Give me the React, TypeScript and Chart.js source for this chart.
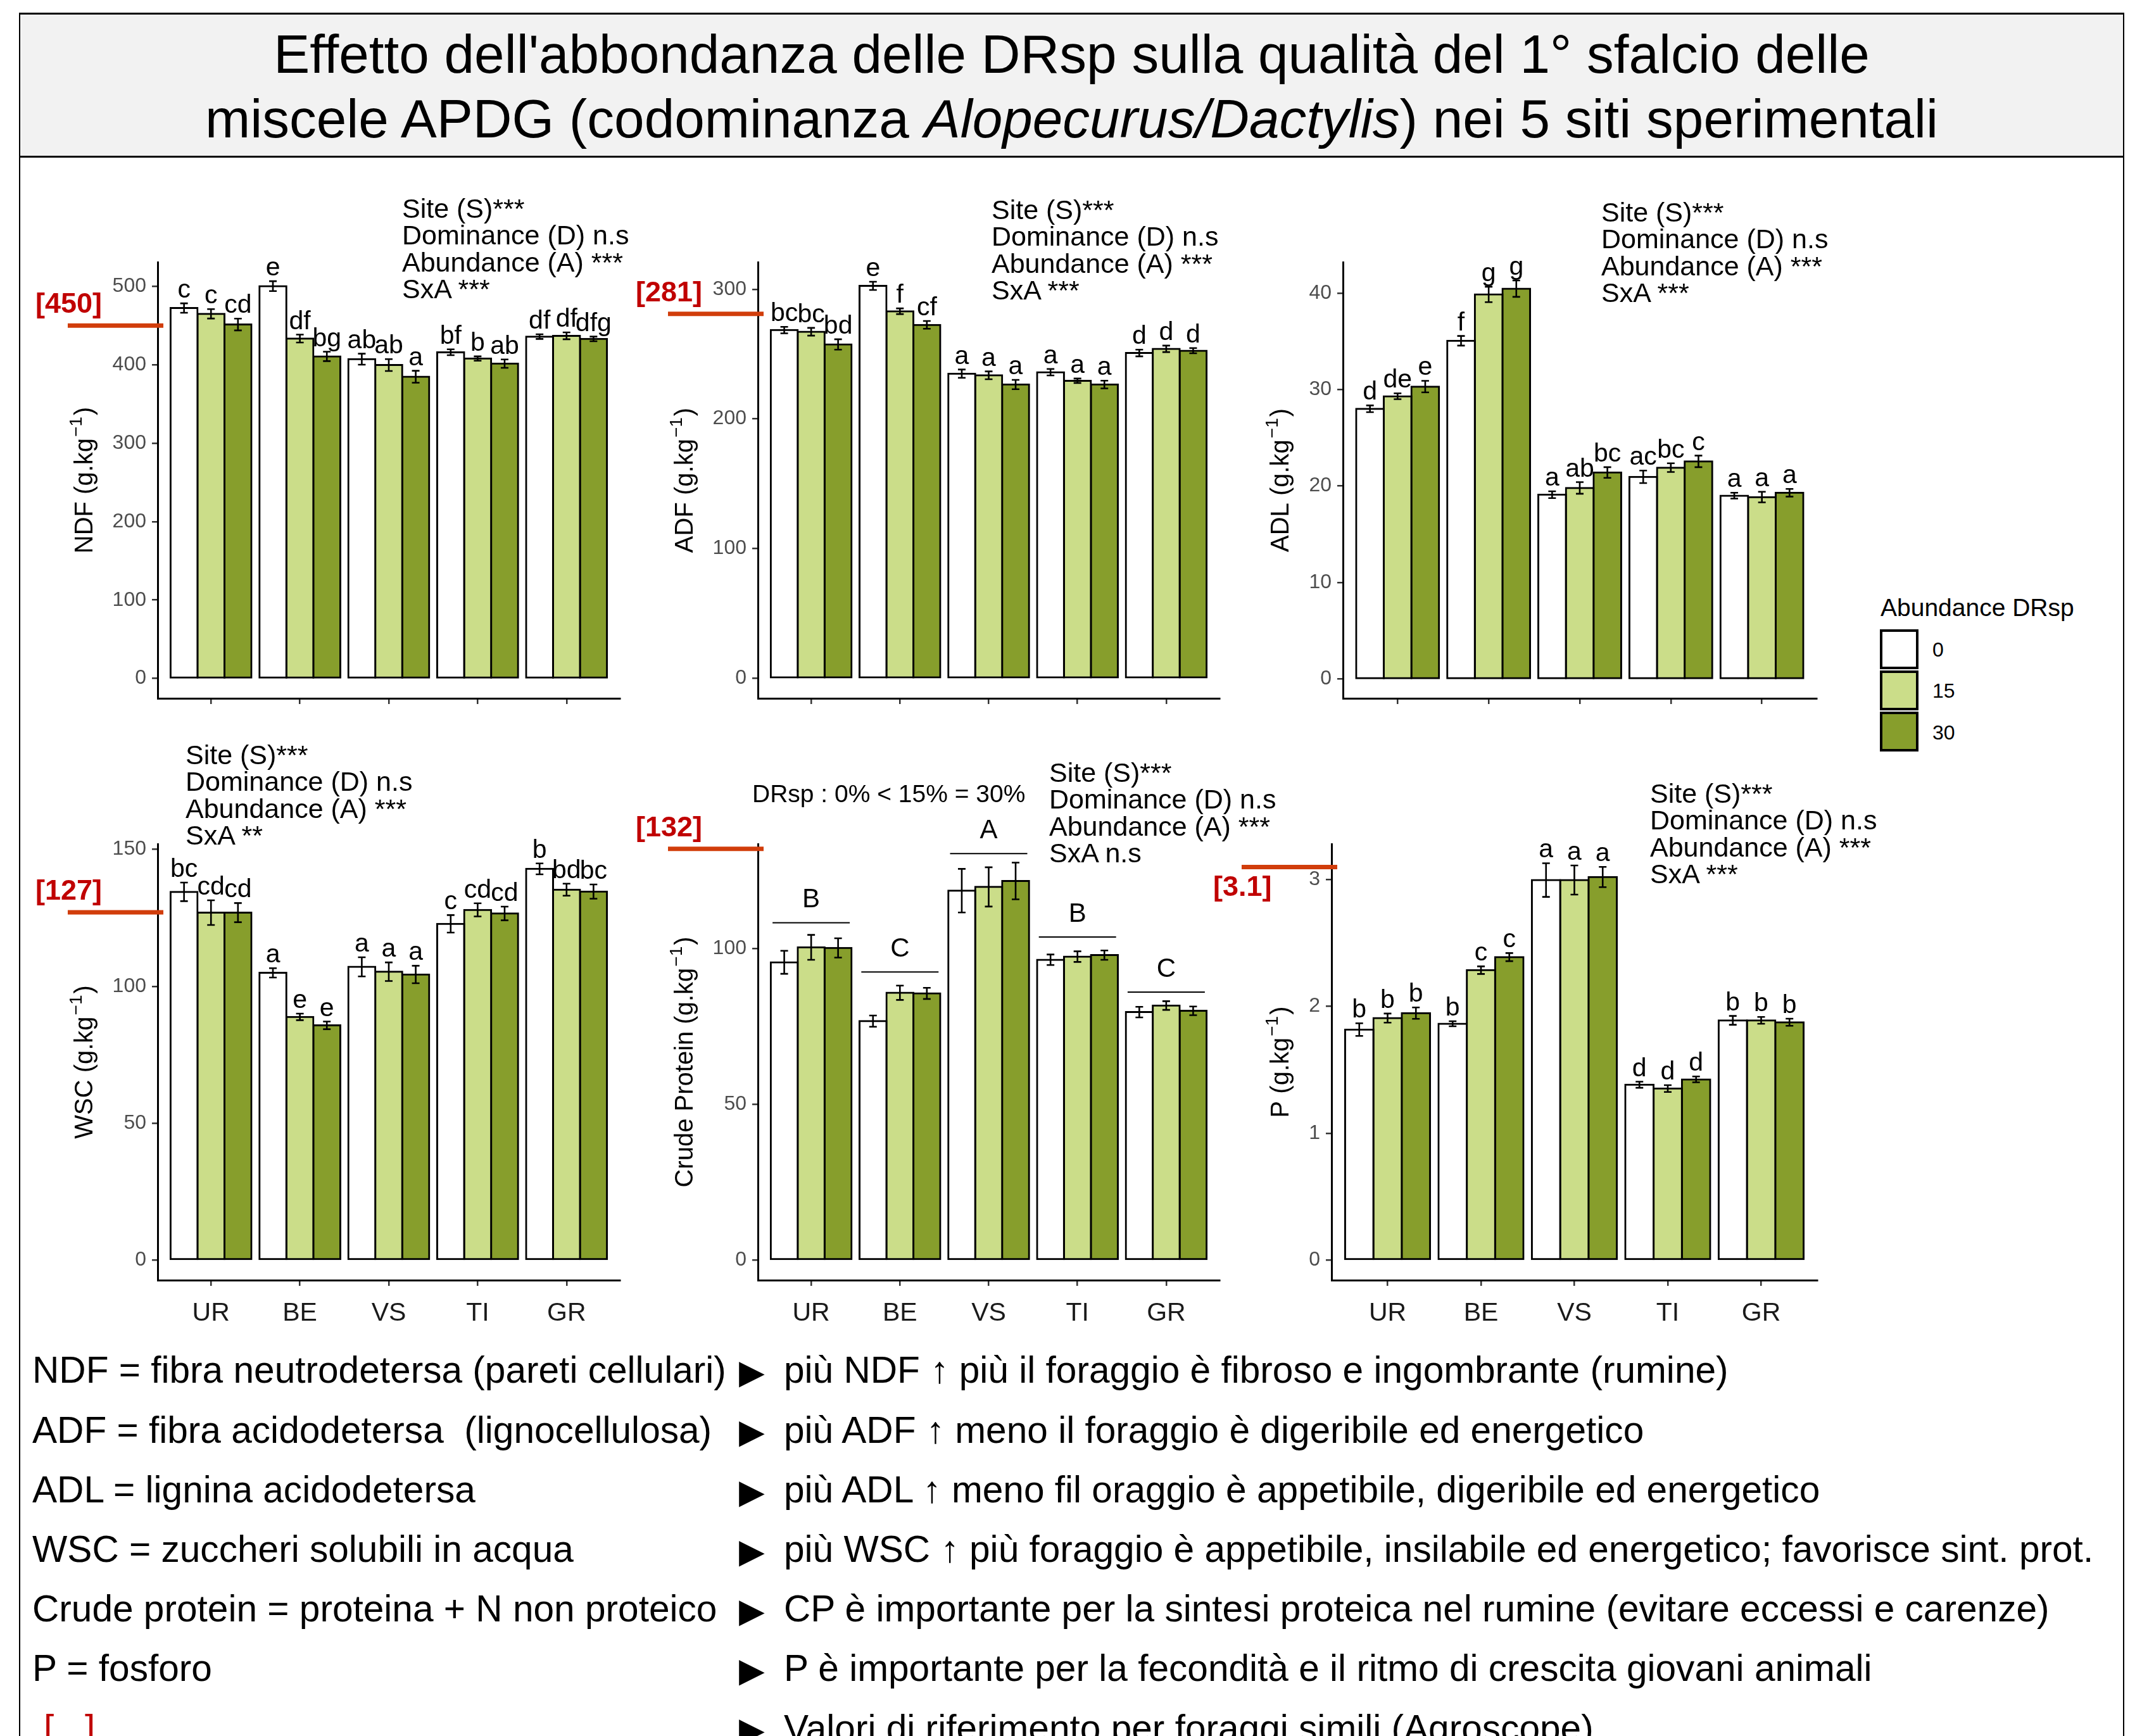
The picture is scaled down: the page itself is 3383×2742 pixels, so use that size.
import React, { useEffect, useRef } from 'react';
import { Chart, registerables } from 'chart.js';

Chart.register(...registerables);

const FONT = '"Liberation Sans", Arial, Helvetica, sans-serif';

// ---------------- DATA ----------------
const SITES = ['UR', 'BE', 'VS', 'TI', 'GR'];
const ABUNDANCE_LEVELS = ['0', '15', '30'];
const BAR_COLORS = ['#ffffff', '#cbdd89', '#879e2c'];

// NDF (g/kg)
const NDF_0 = [472.4, 500.4, 407.2, 416.0, 436.0];
const NDF_15 = [465.0, 433.5, 399.7, 408.0, 437.0];
const NDF_30 = [451.4, 410.7, 384.8, 401.5, 433.0];
const NDF_SE_0 = [6.0, 6.3, 7.0, 3.7, 3.0];
const NDF_SE_15 = [6.0, 5.0, 7.6, 2.8, 4.4];
const NDF_SE_30 = [7.5, 6.0, 7.6, 5.3, 3.0];
const NDF_LET_0 = ['c', 'e', 'ab', 'bf', 'df'];
const NDF_LET_15 = ['c', 'df', 'ab', 'b', 'df'];
const NDF_LET_30 = ['cd', 'bg', 'a', 'ab', 'dfg'];
const NDF_TICKS = [0, 100, 200, 300, 400, 500];
const NDF_STATS = ['Site (S)***', 'Dominance (D) n.s', 'Abundance (A) ***', 'SxA ***'];
const NDF_REF = 450;

// ADF
const ADF_0 = [268.5, 302.6, 234.9, 236.0, 250.8];
const ADF_15 = [267.2, 283.0, 233.6, 229.4, 254.0];
const ADF_30 = [257.4, 272.5, 226.5, 226.5, 252.6];
const ADF_SE_0 = [2.5, 3.2, 3.2, 2.5, 2.6];
const ADF_SE_15 = [3.0, 2.2, 3.0, 1.7, 2.5];
const ADF_SE_30 = [4.0, 3.0, 3.6, 3.0, 2.0];
const ADF_LET_0 = ['bc', 'e', 'a', 'a', 'd'];
const ADF_LET_15 = ['bc', 'f', 'a', 'a', 'd'];
const ADF_LET_30 = ['bd', 'cf', 'a', 'a', 'd'];
const ADF_TICKS = [0, 100, 200, 300];
const ADF_STATS = ['Site (S)***', 'Dominance (D) n.s', 'Abundance (A) ***', 'SxA ***'];
const ADF_REF = 281;

// ADL
const ADL_0 = [28.0, 35.05, 19.1, 20.95, 19.0];
const ADL_15 = [29.3, 39.85, 19.8, 21.9, 18.85];
const ADL_30 = [30.3, 40.45, 21.4, 22.55, 19.3];
const ADL_SE_0 = [0.35, 0.5, 0.35, 0.65, 0.3];
const ADL_SE_15 = [0.3, 0.8, 0.6, 0.45, 0.55];
const ADL_SE_30 = [0.6, 0.85, 0.55, 0.6, 0.4];
const ADL_LET_0 = ['d', 'f', 'a', 'ac', 'a'];
const ADL_LET_15 = ['de', 'g', 'ab', 'bc', 'a'];
const ADL_LET_30 = ['e', 'g', 'bc', 'c', 'a'];
const ADL_TICKS = [0, 10, 20, 30, 40];
const ADL_STATS = ['Site (S)***', 'Dominance (D) n.s', 'Abundance (A) ***', 'SxA ***'];

// WSC
const WSC_0 = [134.5, 104.9, 107.1, 122.8, 142.9];
const WSC_15 = [126.9, 88.8, 105.3, 127.9, 135.3];
const WSC_30 = [126.9, 85.7, 104.3, 126.6, 134.6];
const WSC_SE_0 = [3.4, 1.7, 3.5, 3.2, 2.0];
const WSC_SE_15 = [4.5, 1.2, 3.4, 2.4, 2.2];
const WSC_SE_30 = [3.5, 1.4, 3.2, 2.5, 2.6];
const WSC_LET_0 = ['bc', 'a', 'a', 'c', 'b'];
const WSC_LET_15 = ['cd', 'e', 'a', 'cd', 'bd'];
const WSC_LET_30 = ['cd', 'e', 'a', 'cd', 'bc'];
const WSC_TICKS = [0, 50, 100, 150];
const WSC_STATS = ['Site (S)***', 'Dominance (D) n.s', 'Abundance (A) ***', 'SxA **'];
const WSC_REF = 127;

// Crude protein
const CP_0 = [95.6, 76.7, 118.6, 96.4, 79.6];
const CP_15 = [100.4, 85.8, 119.8, 97.4, 81.7];
const CP_30 = [100.2, 85.6, 121.7, 97.9, 80.0];
const CP_SE_0 = [3.7, 1.8, 7.0, 1.7, 1.7];
const CP_SE_15 = [4.0, 2.3, 6.3, 1.7, 1.4];
const CP_SE_30 = [3.1, 1.8, 5.9, 1.5, 1.4];
const CP_GROUP_LETTERS = ['B', 'C', 'A', 'B', 'C'];
const CP_GROUP_LINE = [108.3, 92.5, 130.5, 103.7, 86.0];
const CP_TICKS = [0, 50, 100];
const CP_STATS = ['Site (S)***', 'Dominance (D) n.s', 'Abundance (A) ***', 'SxA n.s'];
const CP_NOTE = 'DRsp : 0% < 15% = 30%';
const CP_REF = 132;

// P
const P_0 = [1.817, 1.863, 2.997, 1.382, 1.89];
const P_15 = [1.908, 2.286, 2.997, 1.352, 1.89];
const P_30 = [1.947, 2.389, 3.021, 1.424, 1.875];
const P_SE_0 = [0.05, 0.02, 0.133, 0.024, 0.035];
const P_SE_15 = [0.036, 0.03, 0.115, 0.027, 0.027];
const P_SE_30 = [0.045, 0.032, 0.08, 0.023, 0.028];
const P_LET_0 = ['b', 'b', 'a', 'd', 'b'];
const P_LET_15 = ['b', 'c', 'a', 'd', 'b'];
const P_LET_30 = ['b', 'c', 'a', 'd', 'b'];
const P_TICKS = [0, 1, 2, 3];
const P_STATS = ['Site (S)***', 'Dominance (D) n.s', 'Abundance (A) ***', 'SxA ***'];
const P_REF = 3.1;

const TITLE_1 = "Effetto dell'abbondanza delle DRsp sulla qualità del 1° sfalcio delle";
const LEGEND_TITLE = 'Abundance DRsp';

const NOTES_LEFT = [
  'NDF = fibra neutrodetersa (pareti cellulari)',
  'ADF = fibra acidodetersa  (lignocellulosa)',
  'ADL = lignina acidodetersa',
  'WSC = zuccheri solubili in acqua',
  'Crude protein = proteina + N non proteico',
  'P = fosforo',
  '[...]',
];
const NOTES_RIGHT = [
  'più NDF ↑ più il foraggio è fibroso e ingombrante (rumine)',
  'più ADF ↑ meno il foraggio è digeribile ed energetico',
  'più ADL ↑ meno fil oraggio è appetibile, digeribile ed energetico',
  'più WSC ↑ più foraggio è appetibile, insilabile ed energetico; favorisce sint. prot.',
  'CP è importante per la sintesi proteica nel rumine (evitare eccessi e carenze)',
  'P è importante per la fecondità e il ritmo di crescita giovani animali',
  'Valori di riferimento per foraggi simili (Agroscope)',
];

// ---------------- PANEL CONFIGS ----------------
type Panel = {
  id: string;
  yName: string;
  means: number[][];
  ses: number[][];
  letters: string[][] | null;
  ticks: number[];
  yMin: number;
  yMax: number;
  ax: number; ar: number; at: number; ab: number;
  showX: boolean;
  ref: number | null;
  refBelow?: boolean;
  stats: string[];
  statsX: number; statsY: number;
  groupLetters?: string[];
  groupLine?: number[];
};

const PANELS: Panel[] = [
  {
    id: 'ndf', yName: 'NDF', means: [NDF_0, NDF_15, NDF_30], ses: [NDF_SE_0, NDF_SE_15, NDF_SE_30],
    letters: [NDF_LET_0, NDF_LET_15, NDF_LET_30], ticks: NDF_TICKS, yMin: -25.4, yMax: 531,
    ax: 249, ar: 979, at: 414, ab: 1103, showX: false, ref: NDF_REF, stats: NDF_STATS, statsX: 635, statsY: 344,
  },
  {
    id: 'adf', yName: 'ADF', means: [ADF_0, ADF_15, ADF_30], ses: [ADF_SE_0, ADF_SE_15, ADF_SE_30],
    letters: [ADF_LET_0, ADF_LET_15, ADF_LET_30], ticks: ADF_TICKS, yMin: -15.5, yMax: 320.9,
    ax: 1197, ar: 1926, at: 414, ab: 1103, showX: false, ref: ADF_REF, stats: ADF_STATS, statsX: 1566, statsY: 346,
  },
  {
    id: 'adl', yName: 'ADL', means: [ADL_0, ADL_15, ADL_30], ses: [ADL_SE_0, ADL_SE_15, ADL_SE_30],
    letters: [ADL_LET_0, ADL_LET_15, ADL_LET_30], ticks: ADL_TICKS, yMin: -2.0, yMax: 43.2,
    ax: 2121, ar: 2869, at: 414, ab: 1103, showX: false, ref: null, stats: ADL_STATS, statsX: 2529, statsY: 350,
  },
  {
    id: 'wsc', yName: 'WSC', means: [WSC_0, WSC_15, WSC_30], ses: [WSC_SE_0, WSC_SE_15, WSC_SE_30],
    letters: [WSC_LET_0, WSC_LET_15, WSC_LET_30], ticks: WSC_TICKS, yMin: -7.4, yMax: 152.0,
    ax: 249, ar: 979, at: 1333, ab: 2022, showX: true, ref: WSC_REF, stats: WSC_STATS, statsX: 293, statsY: 1207,
  },
  {
    id: 'cp', yName: 'Crude Protein', means: [CP_0, CP_15, CP_30], ses: [CP_SE_0, CP_SE_15, CP_SE_30],
    letters: null, ticks: CP_TICKS, yMin: -6.5, yMax: 133.6,
    ax: 1197, ar: 1926, at: 1333, ab: 2022, showX: true, ref: CP_REF, stats: CP_STATS, statsX: 1657, statsY: 1235,
    groupLetters: CP_GROUP_LETTERS, groupLine: CP_GROUP_LINE,
  },
  {
    id: 'p', yName: 'P', means: [P_0, P_15, P_30], ses: [P_SE_0, P_SE_15, P_SE_30],
    letters: [P_LET_0, P_LET_15, P_LET_30], ticks: P_TICKS, yMin: -0.16, yMax: 3.282,
    ax: 2103, ar: 2870, at: 1333, ab: 2022, showX: true, ref: P_REF, refBelow: true, stats: P_STATS, statsX: 2606, statsY: 1268,
  },
];

const YW = 240; // reserved width left of axis
const PT = 150; // top padding in canvas
const PR = 30;
const XH = 84;

function geom(p: Panel) {
  const left = p.ax - YW;
  const top = p.at - PT;
  const w = YW + (p.ar - p.ax) + PR;
  const h = PT + (p.ab - p.at) + XH;
  return { left, top, w, h };
}

function makePlugin(p: Panel) {
  return {
    id: 'overlay_' + p.id,
    afterDatasetsDraw(chart: any) {
      const ctx = chart.ctx as CanvasRenderingContext2D;
      const ys = chart.scales.y;
      const xs = chart.scales.x;
      ctx.save();
      p.means.forEach((arr, di) => {
        const meta = chart.getDatasetMeta(di);
        arr.forEach((m, j) => {
          const bar = meta.data[j];
          const x = bar.x;
          const se = p.ses[di][j];
          const yt = ys.getPixelForValue(m + se);
          const yb = ys.getPixelForValue(m - se);
          ctx.strokeStyle = '#000';
          ctx.lineWidth = 2.6;
          ctx.beginPath();
          ctx.moveTo(x, yt); ctx.lineTo(x, yb);
          ctx.moveTo(x - 6, yt); ctx.lineTo(x + 6, yt);
          ctx.moveTo(x - 6, yb); ctx.lineTo(x + 6, yb);
          ctx.stroke();
          if (p.letters) {
            ctx.fillStyle = '#000';
            ctx.font = `41px ${FONT}`;
            ctx.textAlign = 'center';
            ctx.textBaseline = 'alphabetic';
            ctx.fillText(p.letters[di][j], x, yt - 9);
          }
        });
      });
      if (p.groupLetters && p.groupLine) {
        p.groupLetters.forEach((g, j) => {
          const cx = xs.getPixelForValue(j + 1);
          const ly = ys.getPixelForValue(p.groupLine![j]);
          ctx.strokeStyle = '#000';
          ctx.lineWidth = 2;
          ctx.beginPath();
          ctx.moveTo(cx - 61, ly); ctx.lineTo(cx + 61, ly);
          ctx.stroke();
          ctx.fillStyle = '#000';
          ctx.font = `42px ${FONT}`;
          ctx.textAlign = 'center';
          ctx.textBaseline = 'alphabetic';
          ctx.fillText(g, cx, ly - 24);
        });
      }
      ctx.restore();
    },
    afterDraw(chart: any) {
      const ctx = chart.ctx as CanvasRenderingContext2D;
      const ca = chart.chartArea;
      const ys = chart.scales.y;
      ctx.save();
      // y axis title with superscript
      ctx.font = `32px ${FONT}`;
      const maxW = Math.max(...p.ticks.map((v) => ctx.measureText(String(v)).width));
      const cx = ca.left - 18 - maxW - 46;
      const cy = (ca.top + ca.bottom) / 2;
      const main = `${p.yName} (g.kg`;
      const sup = '\u22121';
      ctx.font = `40px ${FONT}`;
      const w1 = ctx.measureText(main).width;
      const w3 = ctx.measureText(')').width;
      ctx.font = `28px ${FONT}`;
      const w2 = ctx.measureText(sup).width;
      const total = w1 + w2 + w3 + 4;
      ctx.translate(cx, cy);
      ctx.rotate(-Math.PI / 2);
      ctx.fillStyle = '#000';
      ctx.textAlign = 'left';
      ctx.textBaseline = 'alphabetic';
      let x0 = -total / 2;
      const base = 14;
      ctx.font = `40px ${FONT}`;
      ctx.fillText(main, x0, base);
      x0 += w1 + 2;
      ctx.font = `28px ${FONT}`;
      ctx.fillText(sup, x0, base - 17);
      x0 += w2 + 2;
      ctx.font = `40px ${FONT}`;
      ctx.fillText(')', x0, base);
      ctx.setTransform(1, 0, 0, 1, 0, 0);

      // reference line
      if (p.ref !== null) {
        const ry = ys.getPixelForValue(p.ref);
        const lx0 = ca.left - 142;
        const lx1 = ca.left + 9;
        ctx.strokeStyle = '#d13d0b';
        ctx.lineWidth = 7;
        ctx.beginPath();
        ctx.moveTo(lx0, ry); ctx.lineTo(lx1, ry);
        ctx.stroke();
        ctx.fillStyle = '#c00000';
        ctx.font = `bold 45px ${FONT}`;
        ctx.textAlign = 'left';
        ctx.textBaseline = 'alphabetic';
        const label = `[${p.ref}]`;
        if (p.refBelow) ctx.fillText(label, lx0 - 45, ry + 46);
        else ctx.fillText(label, lx0 - 51, ry - 20);
      }
      ctx.restore();
    },
  };
}

function PanelChart({ p }: { p: Panel }) {
  const ref = useRef<HTMLCanvasElement>(null);
  const g = geom(p);
  useEffect(() => {
    const gridOpts = { display: true, offset: false, drawOnChartArea: false, drawTicks: true, tickLength: 9, lineWidth: 2.5, color: '#333333' };
    const borderOpts = { display: true, color: '#000000', width: 3 };
    const chart = new Chart(ref.current as HTMLCanvasElement, {
      type: 'bar',
      data: {
        datasets: p.means.map((arr, di) => ({
          label: ABUNDANCE_LEVELS[di],
          data: arr.map((v, j) => ({ x: j + 1, y: v })),
          backgroundColor: BAR_COLORS[di],
          borderColor: '#000000',
          borderWidth: 3,
          borderSkipped: false,
          inflateAmount: 1.5,
          categoryPercentage: 0.91,
          barPercentage: 1,
        })),
      } as any,
      options: {
        responsive: false,
        animation: false,
        devicePixelRatio: 1,
        layout: { padding: { left: 0, top: PT, right: PR, bottom: 0 } },
        plugins: { legend: { display: false }, tooltip: { enabled: false }, title: { display: false } },
        scales: {
          x: {
            type: 'linear',
            offset: false,
            min: 0.4,
            max: 5.6,
            afterBuildTicks: (s: any) => { s.ticks = SITES.map((_, i) => ({ value: i + 1 })); },
            afterFit: (s: any) => { s.height = XH; },
            ticks: {
              callback: (v: any) => SITES[Math.round(Number(v)) - 1] ?? '',
              color: p.showX ? '#1a1a1a' : 'rgba(0,0,0,0)',
              font: { family: FONT, size: 41 },
              padding: 19,
              maxRotation: 0,
              autoSkip: false,
            },
            grid: gridOpts,
            border: borderOpts,
          },
          y: {
            type: 'linear',
            min: p.yMin,
            max: p.yMax,
            afterBuildTicks: (s: any) => { s.ticks = p.ticks.map((v) => ({ value: v })); },
            afterFit: (s: any) => { s.width = YW; },
            ticks: {
              callback: (v: any) => String(v),
              color: '#4d4d4d',
              font: { family: FONT, size: 32 },
              padding: 9,
            },
            grid: gridOpts,
            border: borderOpts,
          },
        },
      } as any,
      plugins: [makePlugin(p)],
    });
    return () => chart.destroy();
  }, []);
  return (
    <canvas
      ref={ref}
      width={g.w}
      height={g.h}
      style={{ position: 'absolute', left: g.left, top: g.top, width: g.w, height: g.h }}
    />
  );
}

function Txt({ x, baseline, size, children, style }: any) {
  return (
    <div
      style={{
        position: 'absolute',
        left: x,
        top: baseline - 0.8465 * size,
        fontSize: size,
        lineHeight: `${size}px`,
        whiteSpace: 'pre',
        color: '#000',
        ...style,
      }}
    >
      {children}
    </div>
  );
}

export default function App() {
  useEffect(() => {
    document.body.style.margin = '0';
    document.body.style.overflow = 'hidden';
  }, []);
  const legendTops = [994, 1059, 1124];
  const legendBaselines = [1037, 1102, 1168];
  return (
    <div
      style={{
        position: 'absolute', left: 0, top: 0, width: 3383, height: 2742, overflow: 'hidden',
        background: '#ffffff', fontFamily: FONT,
      }}
    >
      {/* main frame */}
      <div style={{ position: 'absolute', left: 30, top: 246, width: 3325, height: 2700, border: '2px solid #000', boxSizing: 'border-box' }} />
      {/* title box */}
      <div
        style={{
          position: 'absolute', left: 30, top: 20, width: 3325, height: 229, background: '#f2f2f2',
          borderTop: '3px solid #000', borderBottom: '3px solid #000', borderLeft: '2px solid #000', borderRight: '2px solid #000',
          boxSizing: 'border-box',
        }}
      />
      <Txt x={30} baseline={115} size={85.5} style={{ width: 3325, textAlign: 'center' }}>{TITLE_1}</Txt>
      <Txt x={30} baseline={217} size={85.5} style={{ width: 3325, textAlign: 'center' }}>
        miscele APDG (codominanza <i>Alopecurus/Dactylis</i>) nei 5 siti sperimentali
      </Txt>

      {PANELS.map((p) => (
        <PanelChart key={p.id} p={p} />
      ))}

      {PANELS.map((p) =>
        p.stats.map((s, k) => (
          <Txt key={p.id + k} x={p.statsX} baseline={p.statsY + k * 42.5} size={43}>{s}</Txt>
        ))
      )}

      <Txt x={1188} baseline={1267} size={39}>{CP_NOTE}</Txt>

      {/* legend */}
      <Txt x={2970} baseline={973} size={39}>{LEGEND_TITLE}</Txt>
      {ABUNDANCE_LEVELS.map((lv, i) => (
        <React.Fragment key={lv}>
          <div
            style={{
              position: 'absolute', left: 2969, top: legendTops[i], width: 61, height: 63,
              background: BAR_COLORS[i], border: '4px solid #000', boxSizing: 'border-box',
            }}
          />
          <Txt x={3052} baseline={legendBaselines[i]} size={32}>{lv}</Txt>
        </React.Fragment>
      ))}

      {/* notes */}
      {NOTES_LEFT.map((s, i) => (
        <Txt key={'l' + i} x={i === 6 ? 69 : 51} baseline={2185 + i * 94.2} size={58.6} style={i === 6 ? { color: '#c00000' } : {}}>{s}</Txt>
      ))}
      {NOTES_RIGHT.map((s, i) => (
        <React.Fragment key={'r' + i}>
          <Txt x={1167} baseline={2185 + i * 94.2} size={53} style={{ fontFamily: '"DejaVu Sans", sans-serif' }}>{'▶'}</Txt>
          <Txt x={1238} baseline={2185 + i * 94.2} size={58.6}>{s}</Txt>
        </React.Fragment>
      ))}
    </div>
  );
}
